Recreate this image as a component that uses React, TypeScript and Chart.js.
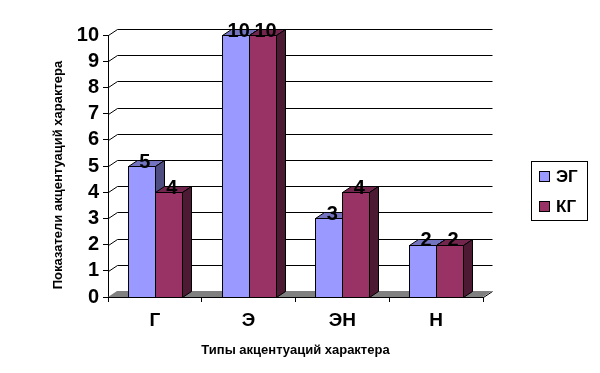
import React, { useEffect, useRef } from 'react';
import { Chart, registerables } from 'chart.js';

Chart.register(...registerables);

const categories = ['Г', 'Э', 'ЭН', 'Н'];
const seriesNames = ['ЭГ', 'КГ'];
const egValues = [5, 10, 3, 2];
const kgValues = [4, 10, 4, 2];
const yMin = 0;
const yMax = 10;
const yStep = 1;
const xTitle = 'Типы акцентуаций характера';
const yTitle = 'Показатели акцентуаций характера';

const FONT = "'Liberation Sans', Arial, sans-serif";
const DX = 9;
const DY = 6;
const faces = [
  { front: '#9999FF', top: '#7373BF', side: '#4D4D80' },
  { front: '#993366', top: '#73264D', side: '#4D1A33' },
];

function poly(ctx: CanvasRenderingContext2D, pts: number[][], fill: string) {
  ctx.beginPath();
  ctx.moveTo(pts[0][0], pts[0][1]);
  for (let i = 1; i < pts.length; i++) ctx.lineTo(pts[i][0], pts[i][1]);
  ctx.closePath();
  ctx.fillStyle = fill;
  ctx.fill();
  ctx.stroke();
}

const threeD = {
  id: 'threeD',
  beforeDatasetsDraw(chart: any) {
    const { ctx, chartArea, scales } = chart;
    const { left, right, bottom } = chartArea;
    const y = scales.y;
    ctx.save();
    // floor
    ctx.fillStyle = '#808080';
    ctx.beginPath();
    ctx.moveTo(left, bottom);
    ctx.lineTo(left + DX, bottom - DY);
    ctx.lineTo(right + DX, bottom - DY);
    ctx.lineTo(right, bottom);
    ctx.closePath();
    ctx.fill();
    ctx.strokeStyle = '#000';
    ctx.lineWidth = 1;
    ctx.beginPath();
    ctx.moveTo(right + 0.5, bottom + 0.5);
    ctx.lineTo(right + DX + 0.5, bottom - DY + 0.5);
    ctx.stroke();
    // back grid lines
    y.ticks.forEach((t: any) => {
      if (t.value === yMin) return;
      const py = Math.round(y.getPixelForValue(t.value)) + 0.5;
      ctx.beginPath();
      ctx.moveTo(left + 0.5, py);
      ctx.lineTo(left + DX + 0.5, py - DY);
      ctx.lineTo(right + DX + 0.5, py - DY);
      ctx.stroke();
    });
    ctx.restore();
  },
  beforeDatasetDraw() {
    return false;
  },
  afterDatasetsDraw(chart: any) {
    const ctx: CanvasRenderingContext2D = chart.ctx;
    const n = chart.data.labels.length;
    const metas = chart.data.datasets.map((_: any, i: number) => chart.getDatasetMeta(i));
    ctx.save();
    ctx.lineWidth = 1;
    ctx.strokeStyle = '#000';
    ctx.lineJoin = 'miter';
    for (let i = 0; i < n; i++) {
      metas.forEach((meta: any, d: number) => {
        const bar = meta.data[i];
        const { x, y, base, width } = bar.getProps(['x', 'y', 'base', 'width'], true);
        const x1 = Math.round(x - width / 2) + 0.5;
        const x2 = Math.round(x + width / 2) + 0.5;
        const t = Math.round(y) + 0.5;
        const b = Math.round(base) + 0.5;
        const f = faces[d];
        ctx.fillStyle = f.front;
        ctx.fillRect(x1, t, x2 - x1, b - t);
        ctx.strokeRect(x1, t, x2 - x1, b - t);
        poly(ctx, [[x1, t], [x1 + DX, t - DY], [x2 + DX, t - DY], [x2, t]], f.top);
        poly(ctx, [[x2, t], [x2 + DX, t - DY], [x2 + DX, b - DY], [x2, b]], f.side);
      });
    }
    // value labels
    ctx.fillStyle = '#000';
    ctx.font = `bold 20px ${FONT}`;
    ctx.textAlign = 'center';
    ctx.textBaseline = 'alphabetic';
    metas.forEach((meta: any, d: number) => {
      meta.data.forEach((bar: any, i: number) => {
        const { x, y } = bar.getProps(['x', 'y'], true);
        const v = chart.data.datasets[d].data[i];
        ctx.fillText(String(v), x + 3.5, y + 1.5);
      });
    });
    ctx.restore();
  },
  afterDraw(chart: any) {
    const ctx: CanvasRenderingContext2D = chart.ctx;
    ctx.save();
    // y title
    ctx.fillStyle = '#000';
    ctx.font = `bold 13px ${FONT}`;
    ctx.textAlign = 'center';
    ctx.textBaseline = 'middle';
    ctx.translate(58, 175);
    ctx.rotate(-Math.PI / 2);
    ctx.fillText(yTitle, 0, 0);
    ctx.restore();

    // legend
    ctx.save();
    ctx.strokeStyle = '#000';
    ctx.lineWidth = 1;
    ctx.strokeRect(531.5, 161.5, 56, 59);
    ctx.font = `bold 17px ${FONT}`;
    ctx.textAlign = 'left';
    ctx.textBaseline = 'middle';
    chart.data.datasets.forEach((ds: any, d: number) => {
      const yy = 171 + d * 30;
      ctx.fillStyle = faces[d].front;
      ctx.fillRect(539.5, yy + 0.5, 10, 10);
      ctx.strokeRect(539.5, yy + 0.5, 10, 10);
      ctx.fillStyle = '#000';
      ctx.fillText(ds.label, 556, yy + 6);
    });
    ctx.restore();
  },
};

export default function App() {
  const ref = useRef<HTMLCanvasElement | null>(null);
  useEffect(() => {
    if (!ref.current) return;
    const chart = new Chart(ref.current, {
      type: 'bar',
      data: {
        labels: categories,
        datasets: [
          { label: seriesNames[0], data: egValues, backgroundColor: faces[0].front },
          { label: seriesNames[1], data: kgValues, backgroundColor: faces[1].front },
        ],
      },
      options: {
        responsive: false,
        animation: false,
        layout: { padding: { top: 35, right: 117, left: 0, bottom: 0 } },
        datasets: { bar: { categoryPercentage: 0.574, barPercentage: 1 } },
        plugins: { legend: { display: false }, tooltip: { enabled: false } },
        scales: {
          x: {
            afterFit: (s: any) => { s.height = 76; },
            grid: { drawOnChartArea: false, drawTicks: true, tickLength: 5, color: '#000' },
            border: { display: true, color: '#000', width: 1 },
            ticks: { color: '#000', font: { family: FONT, size: 19, weight: 'bold' }, padding: 7 },
            title: {
              display: true,
              text: xTitle,
              color: '#000',
              font: { family: FONT, size: 13, weight: 'bold' },
              padding: { top: 0, bottom: 15 },
            },
          },
          y: {
            min: yMin,
            max: yMax,
            afterFit: (s: any) => { s.width = 108; },
            grid: { drawOnChartArea: false, drawTicks: true, tickLength: 5, color: '#000' },
            border: { display: true, color: '#000', width: 1 },
            ticks: {
              stepSize: yStep,
              autoSkip: false,
              color: '#000',
              font: { family: FONT, size: 20, weight: 'bold' },
              padding: 4,
            },
          },
        },
      },
      plugins: [threeD],
    });
    return () => chart.destroy();
  }, []);
  return (
    <div style={{ position: 'fixed', left: 0, top: 0, width: 600, height: 373, background: '#fff' }}>
      <canvas ref={ref} width={600} height={373} />
    </div>
  );
}
